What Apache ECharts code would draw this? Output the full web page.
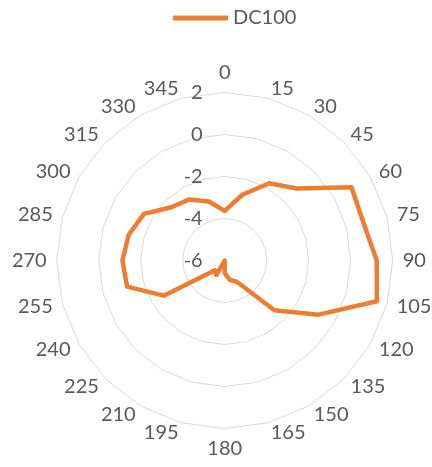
<!DOCTYPE html>
<html>
<head>
<meta charset="utf-8">
<script src="https://cdn.jsdelivr.net/npm/echarts@6/dist/echarts.min.js"></script>
<style>
html,body{margin:0;padding:0;background:#fff;}
#chart{width:432px;height:467px;}
</style>
</head>
<body>
<div id="chart"></div>
<script>
// Data
var angles = ['0','15','30','45','60','75','90','105','120','135','150','165','180','195','210','225','240','255','270','285','300','315','330','345'];
var dc100 = [-3.64,-2.76,-1.75,-1.15,0.97,0.85,1.24,1.50,-0.84,-2.65,-4.82,-5.05,-5.4,-6.0,-5.2,-5.34,-2.65,-1.19,-1.13,-1.27,-1.56,-2.41,-2.64,-3.09];
var seriesName = 'DC100';
var radialMin = -6, radialMax = 2;

// ECharts radar goes counter-clockwise; reorder so angles run clockwise
var order = [0];
for (var i = angles.length - 1; i >= 1; i--) order.push(i);

var indicators = order.map(function (idx, k) {
  var ind = { name: angles[idx], min: radialMin, max: radialMax };
  if (k === 0) ind.axisLabel = { show: true };
  return ind;
});
var values = order.map(function (idx) { return dc100[idx]; });

var textColor = '#595959';
var fontFam = 'Lato, "Open Sans", sans-serif';

var chart = echarts.init(document.getElementById('chart'), null, { renderer: 'canvas' });
chart.setOption({
  animation: false,
  backgroundColor: '#ffffff',
  legend: {
    left: 168,
    top: 3,
    icon: 'roundRect',
    itemWidth: 55,
    itemHeight: 5,
    itemStyle: { borderRadius: 3 },
    textStyle: { color: textColor, fontSize: 20, fontFamily: fontFam, padding: [0, 0, 0, 0] },
    data: [seriesName]
  },
  radar: {
    center: [224.7, 260.5],
    radius: 168,
    startAngle: 90,
    shape: 'polygon',
    splitNumber: 4,
    nameGap: 10,
    axisName: { color: textColor, fontSize: 20, fontFamily: fontFam },
    axisLine: { show: false },
    axisTick: { show: false },
    splitArea: { show: false },
    splitLine: { lineStyle: { color: '#D9D9D9', width: 1 } },
    axisLabel: { show: false, color: textColor, fontSize: 20, fontFamily: fontFam, margin: 22 },
    indicator: indicators
  },
  series: [{
    type: 'radar',
    name: seriesName,
    symbol: 'none',
    lineStyle: { color: '#ED7D31', width: 4.5, join: 'round', cap: 'round' },
    itemStyle: { color: '#ED7D31' },
    data: [{ name: seriesName, value: values }]
  }]
});
</script>
</body>
</html>
